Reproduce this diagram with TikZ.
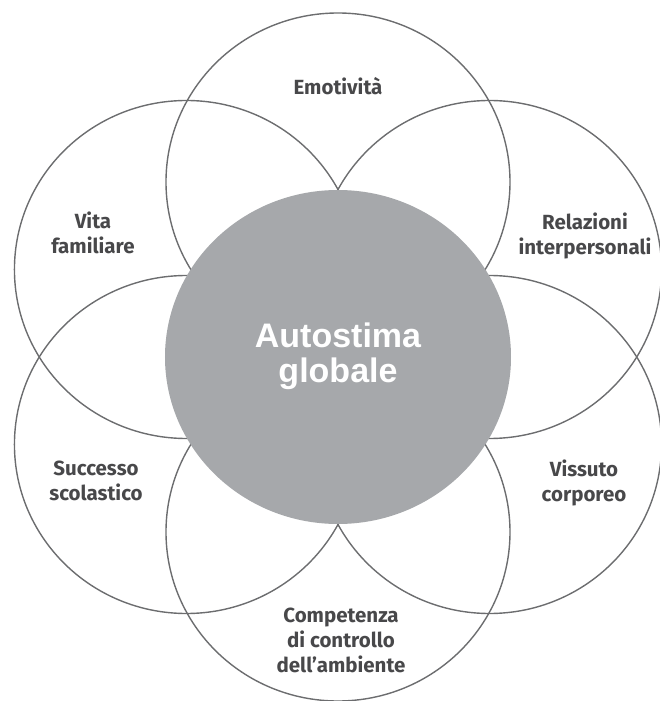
\documentclass[tikz,border=0pt]{standalone}
\usepackage{fontspec}
\setmainfont{Fira Sans}[Ligatures=NoCommon]
\newfontfamily\corefont{Liberation Sans}
\definecolor{petalline}{RGB}{108,109,111}
\definecolor{corefill}{RGB}{166,168,171}
\definecolor{labeltext}{RGB}{72,72,74}

\begin{document}
\begin{tikzpicture}[x=1pt, y=1pt,
    petal/.style={draw=petalline, line width=1.4pt},
    core/.style={fill=corefill},
    lbl/.style={text=labeltext, font=\bfseries\fontsize{20.5}{25}\selectfont, align=center, inner sep=0pt}]
\useasboundingbox (-338,-344) rectangle (321,357);
\foreach \a in {90,30,...,-210}
    \draw[petal] (\a:175) ellipse [x radius=172, y radius=169];
\fill[core] (0,0) ellipse [x radius=173, y radius=167];
\node[text=white, font=\corefont\bfseries\fontsize{34}{35}\selectfont, align=center, inner sep=0pt] (core) at (0,1.2) {Autostima\\globale};
\node[lbl] (emo) at (0,271) {Emotività};
\node[lbl] (rel) at (247,121.5) {Relazioni\\interpersonali};
\node[lbl] (vis) at (246,-125.5) {Vissuto\\corporeo};
\node[lbl] (comp) at (3,-283.5) {Competenza\\di controllo\\dell’ambiente};
\node[lbl] (succ) at (-242,-123.5) {Successo\\scolastico};
\node[lbl] (vita) at (-245,124.5) {Vita\\familiare};
\end{tikzpicture}
\end{document}
